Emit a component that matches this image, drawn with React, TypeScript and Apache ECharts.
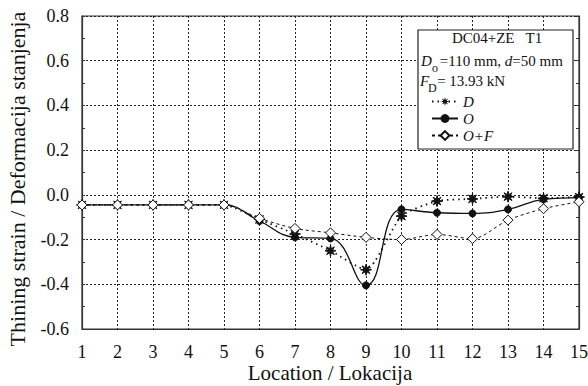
import React, { useEffect, useRef } from "react";
import * as echarts from "echarts";

// Measurement locations along the part
const locations = [1, 2, 3, 4, 5, 6, 7, 8, 9, 10, 11, 12, 13, 14, 15];

// Thinning strain per location for each specimen state
const strainD = [-0.045, -0.045, -0.045, -0.045, -0.045, -0.11, -0.175, -0.25, -0.335, -0.095, -0.028, -0.018, -0.008, -0.015, -0.01];
const strainO = [-0.045, -0.045, -0.045, -0.045, -0.045, -0.117, -0.19, -0.195, -0.405, -0.065, -0.08, -0.083, -0.065, -0.02, -0.012];
const strainOF = [-0.045, -0.045, -0.045, -0.045, -0.045, -0.105, -0.15, -0.17, -0.19, -0.2, -0.177, -0.196, -0.113, -0.062, -0.031];

const FONT = "Liberation Serif";

// Eight-pointed burst used as the marker of series D
function burstPath(): string {
  const pts: string[] = [];
  const n = 8;
  for (let i = 0; i < n * 2; i++) {
    const r = i % 2 === 0 ? 10 : 4;
    const a = (Math.PI * i) / n - Math.PI / 2;
    pts.push(`${(10 + r * Math.cos(a)).toFixed(2)} ${(10 + r * Math.sin(a)).toFixed(2)}`);
  }
  return "path://M" + pts.join(" L") + " Z";
}

export default function App() {
  const ref = useRef<HTMLDivElement>(null);

  useEffect(() => {
    if (!ref.current) return;
    const chart = echarts.init(ref.current, undefined, { renderer: "svg" });

    const pair = (ys: number[]) => locations.map((x, i) => [x, ys[i]]);
    const textBase = { fontFamily: FONT, fontSize: 15, fill: "#111" };

    chart.setOption({
      animation: false,
      backgroundColor: "#fff",
      textStyle: { fontFamily: FONT },
      grid: {
        left: 82,
        right: 9,
        top: 16,
        bottom: 57,
        containLabel: false,
        outerBoundsMode: "none",
        show: true,
        borderColor: "#333",
        borderWidth: 1.2,
        backgroundColor: "transparent",
      },
      legend: {
        orient: "vertical",
        left: 426,
        top: 89,
        itemGap: 2,
        itemWidth: 26,
        itemHeight: 11,
        z: 8,
        textStyle: { fontFamily: FONT, fontSize: 15, fontStyle: "italic", color: "#111" },
        data: ["D", "O", "O+F"],
      },
      xAxis: {
        type: "value",
        min: 1,
        max: 15,
        interval: 1,
        axisLine: { show: true, onZero: false, lineStyle: { color: "#333", width: 1.2 } },
        axisTick: { show: false },
        axisLabel: { fontFamily: FONT, fontSize: 18, color: "#111", margin: 14 },
        splitLine: { show: true, lineStyle: { type: [2, 2], color: "#222", width: 1 } },
      },
      yAxis: [
        {
          type: "value",
          min: -0.6,
          max: 0.8,
          interval: 0.2,
          axisLine: { show: true, lineStyle: { color: "#333", width: 1.2 } },
          axisTick: { show: true, inside: true, length: 3, lineStyle: { color: "#333" } },
          minorTick: { show: true, splitNumber: 2, length: 3, lineStyle: { color: "#333" } },
          axisLabel: {
            fontFamily: FONT,
            fontSize: 18,
            color: "#111",
            margin: 13,
            formatter: (v: number) => v.toFixed(1),
          },
          splitLine: { show: true, lineStyle: { type: [2, 2], color: "#222", width: 1 } },
        },
        {
          type: "value",
          position: "right",
          min: -0.6,
          max: 0.8,
          interval: 0.2,
          axisLine: { show: true, lineStyle: { color: "#333", width: 1.2 } },
          axisTick: { show: true, inside: true, length: 3, lineStyle: { color: "#333" } },
          minorTick: { show: true, splitNumber: 2, length: 3, lineStyle: { color: "#333" } },
          axisLabel: { show: false },
          splitLine: { show: false },
        },
      ],
      series: [
        {
          name: "D",
          type: "line",
          data: pair(strainD),
          smooth: 0.2,
          symbol: burstPath(),
          symbolSize: 11,
          lineStyle: { color: "#111", width: 1.8, type: [1.5, 4] },
          itemStyle: { color: "#111", borderColor: "#111" },
          z: 3,
        },
        {
          name: "O",
          type: "line",
          data: pair(strainO),
          smooth: 0.45,
          symbol: "circle",
          symbolSize: 7,
          lineStyle: { color: "#111", width: 1.3, type: "solid" },
          itemStyle: { color: "#111", borderColor: "#111" },
          z: 4,
        },
        {
          name: "O+F",
          type: "line",
          data: pair(strainOF),
          smooth: 0.3,
          symbol: "diamond",
          symbolSize: 10,
          lineStyle: { color: "#111", width: 1, type: [3, 3] },
          itemStyle: { color: "#fff", borderColor: "#111", borderWidth: 1 },
          z: 5,
        },
      ],
      graphic: [
        {
          type: "text",
          x: 17,
          y: 179,
          rotation: Math.PI / 2,
          style: {
            fontFamily: FONT,
            fontSize: 22,
            fill: "#111",
            text: "Thining strain / Deformacija stanjenja",
            align: "center",
            verticalAlign: "middle",
          },
        },
        {
          type: "text",
          x: 330,
          y: 373,
          style: {
            fontFamily: FONT,
            fontSize: 21,
            fill: "#111",
            text: "Location / Lokacija",
            align: "center",
            verticalAlign: "middle",
          },
        },
        {
          type: "rect",
          z: 6,
          shape: { x: 418, y: 30, width: 155, height: 119 },
          style: { fill: "#fff", stroke: "#222", lineWidth: 1.2 },
        },
        {
          type: "text",
          z: 7,
          x: 497,
          y: 38,
          style: { ...textBase, text: "DC04+ZE   T1", align: "center", verticalAlign: "middle" },
        },
        {
          type: "text",
          z: 7,
          x: 421,
          y: 61,
          style: {
            ...textBase,
            verticalAlign: "middle",
            text: "{i|D}{g|}{n|=110 mm, }{i|d}{n|=50 mm}",
            rich: {
              i: { fontFamily: FONT, fontSize: 15, fontStyle: "italic", fill: "#111" },
              n: { fontFamily: FONT, fontSize: 15, fill: "#111" },
              g: { width: 8 },
            },
          },
        },
        {
          type: "text",
          z: 7,
          x: 432,
          y: 68,
          style: { ...textBase, fontSize: 12, text: "o", verticalAlign: "middle" },
        },
        {
          type: "text",
          z: 7,
          x: 420,
          y: 81,
          style: {
            ...textBase,
            verticalAlign: "middle",
            text: "{i|F}{g|}{n|= 13.93 kN}",
            rich: {
              i: { fontFamily: FONT, fontSize: 15, fontStyle: "italic", fill: "#111" },
              n: { fontFamily: FONT, fontSize: 15, fill: "#111" },
              g: { width: 8 },
            },
          },
        },
        {
          type: "text",
          z: 7,
          x: 428,
          y: 88,
          style: { ...textBase, fontSize: 12, text: "D", verticalAlign: "middle" },
        },
      ],
    });

    return () => chart.dispose();
  }, []);

  return (
    <div
      ref={ref}
      style={{ position: "fixed", left: 0, top: 0, width: 588, height: 386, background: "#fff" }}
    />
  );
}
